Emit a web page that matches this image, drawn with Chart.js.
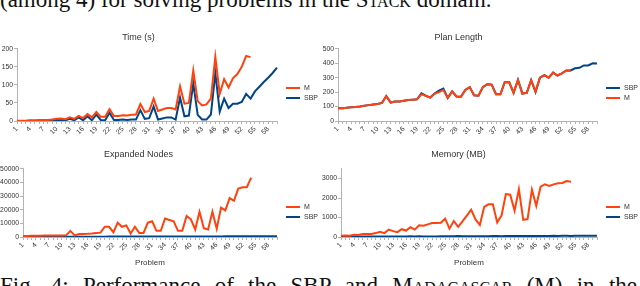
<!DOCTYPE html>
<html>
<head>
<meta charset="utf-8">
<script src="https://cdn.jsdelivr.net/npm/chart.js@4.4.0/dist/chart.umd.min.js"></script>
<style>
  body { margin: 0; width: 640px; height: 286px; overflow: hidden; background: #fff; position: relative; }
  .cap { position: absolute; left: 0; white-space: nowrap; font-family: "Liberation Serif", "Times New Roman", serif; font-size: 23px; line-height: 23px; color: #111; }
  .sc { font-variant: small-caps; }
  .box { position: absolute; }
</style>
</head>
<body>
<div class="cap" style="top:-12px">(among 4) for solving problems in the <span class="sc">Stack</span> domain.</div>

<div class="box" style="left:0;top:30px;width:320px;height:112px"><canvas id="time"></canvas></div>
<div class="box" style="left:320px;top:30px;width:320px;height:112px"><canvas id="plan"></canvas></div>
<div class="box" style="left:0;top:147px;width:320px;height:121px"><canvas id="nodes"></canvas></div>
<div class="box" style="left:320px;top:147px;width:320px;height:121px"><canvas id="memory"></canvas></div>

<div class="cap" style="top:274px;width:637px;text-align:justify;text-align-last:justify">Fig. 4: Performance of the SBP and M<span class="sc">adagascar</span> (M) in the</div>

<script>
// problem numbers on the x axis
const problems = ['1','2','3','4','5','6','7','8','9','10','11','12','13','14','15','16','17','18','19','20',
  '21','22','23','24','25','26','27','28','29','30','31','32','33','34','35','36','37','38','39','40',
  '41','42','43','44','45','46','47','48','49','50','51','52','53','54','55','56','57','58','59','60'];

// Time (s)
const timeM = [1,1,1,2,2,3,3,3,4,6,7,5,10,6,14,8,19,10,25,12,12,33,14,14,16,15,17,18,47,25,
  28,62,28,32,36,36,32,96,48,50,140,55,43,46,62,178,75,116,93,118,130,150,180,177];
const timeSBP = [0,0,0,1,0,1,1,1,2,3,3,2,6,2,10,2,13,2,18,3,2,23,3,3,4,3,4,4,30,6,
  8,40,4,7,10,10,4,65,13,15,104,17,4,4,18,133,26,62,36,48,48,53,75,62,82,95,108,120,133,148];

// Plan length
const planM = [88,88,92,95,97,100,105,110,115,118,125,172,128,135,135,140,145,148,150,185,
  175,162,188,200,215,160,205,170,168,215,235,178,175,235,255,252,185,185,270,268,
  195,285,190,195,283,205,300,318,300,335,315,330,348,348];
const planSBP = [88,88,92,95,97,100,105,110,115,118,125,172,128,135,135,140,145,148,150,192,
  175,162,190,210,225,160,205,170,168,215,235,178,175,235,255,252,185,185,270,268,
  195,285,190,195,283,200,300,318,300,335,315,330,350,350,365,368,385,385,400,398];

// Expanded nodes
const nodesM = [700,800,900,1000,1000,1100,1100,1100,1100,1100,1200,4500,1200,2200,2200,2300,2500,3000,3200,7500,
  7500,3500,10500,7500,8500,2500,7500,3000,3000,10500,11500,4500,4500,13500,12500,11500,4500,4500,15500,13000,
  5500,18500,6500,5500,18500,6000,21500,19500,28500,26500,35500,36500,36500,43500];
const nodesSBP = [100,100,110,120,120,130,140,150,160,170,180,200,200,210,220,230,240,250,260,270,
  280,290,300,300,310,300,320,320,330,340,350,340,360,370,380,380,370,390,400,410,
  400,420,410,430,440,450,440,460,470,480,490,500,500,510,520,530,540,550,560,570];

// Memory (MB)
const memM = [60,80,70,120,100,160,150,160,200,270,200,380,300,250,400,330,500,380,600,580,
  650,720,720,730,940,430,820,520,800,1100,1400,900,620,1550,1680,1680,750,1100,2200,2170,
  1350,2450,880,920,2430,1600,2580,2700,2620,2700,2760,2770,2870,2830];
const memSBP = [20,20,22,25,22,25,28,25,30,30,28,32,30,28,32,30,35,30,40,30,
  28,32,30,35,38,40,35,45,38,35,40,35,38,42,40,45,50,42,45,48,
  45,50,52,45,50,48,55,52,55,58,55,60,58,55,60,62,58,65,62,60];

const ORANGE = '#ff420e';
const BLUE = '#004586';
const AXIS = '#b3b3b3';
const FONT = '"Liberation Sans", Arial, sans-serif';

Chart.defaults.font.family = FONT;
Chart.defaults.color = '#333';

// legend drawn as short lines to the right of the plot, like the office chart
const sideLegend = {
  id: 'sideLegend',
  afterDraw(chart, args, opts) {
    const ctx = chart.ctx;
    const x = chart.chartArea.right + 9;
    ctx.save();
    ctx.font = '7px ' + FONT;
    ctx.textBaseline = 'middle';
    opts.items.forEach((idx, k) => {
      const ds = chart.data.datasets[idx];
      const y = opts.top + k * 10;
      ctx.strokeStyle = ds.borderColor;
      ctx.lineWidth = 2;
      ctx.beginPath();
      ctx.moveTo(x, y);
      ctx.lineTo(x + 14, y);
      ctx.stroke();
      ctx.fillStyle = '#333';
      ctx.fillText(ds.label, x + 18, y);
    });
    ctx.restore();
  }
};

function series(label, data, color) {
  return {
    label: label,
    data: data,
    borderColor: color,
    backgroundColor: color,
    borderWidth: 2,
    pointRadius: 0,
    tension: 0,
    fill: false
  };
}

function makeChart(id, title, datasets, yMax, yStep, yWidth, xHeight, titleGap, xTitle, legendItems, legendTop) {
  return new Chart(document.getElementById(id), {
    type: 'line',
    data: { labels: problems, datasets: datasets },
    plugins: [sideLegend],
    options: {
      responsive: true,
      maintainAspectRatio: false,
      animation: false,
      layout: { padding: { left: 0, right: 43, top: 0, bottom: 0 } },
      plugins: {
        title: {
          display: true,
          text: title,
          font: { size: 9, weight: 'normal' },
          padding: { top: 2, bottom: titleGap }
        },
        legend: { display: false },
        tooltip: { enabled: false },
        sideLegend: { items: legendItems, top: legendTop }
      },
      scales: {
        x: {
          grid: { drawOnChartArea: false, tickLength: 3, color: AXIS },
          border: { color: AXIS },
          ticks: {
            autoSkip: false,
            minRotation: 45,
            maxRotation: 45,
            padding: 1,
            font: { size: 7 },
            callback: function (v, i) { return i % 3 === 0 ? this.getLabelForValue(v) : ''; }
          },
          title: { display: xTitle, text: 'Problem', font: { size: 8 }, padding: 0 },
          afterFit: function (s) { s.height = xHeight; }
        },
        y: {
          min: 0,
          max: yMax,
          grid: { drawOnChartArea: false, tickLength: 3, color: AXIS },
          border: { color: AXIS },
          ticks: { stepSize: yStep, padding: 1, font: { size: 6.8 }, callback: v => String(v) },
          afterFit: function (s) { s.width = yWidth; }
        }
      }
    }
  });
}

makeChart('time', 'Time (s)',
  [series('M', timeM, ORANGE), series('SBP', timeSBP, BLUE)], 200, 50, 17, 21, 6, false, [0, 1], 58);
makeChart('plan', 'Plan Length',
  [series('M', planM, ORANGE), series('SBP', planSBP, BLUE)], 500, 100, 18, 21, 6, false, [1, 0], 58);
makeChart('nodes', 'Expanded Nodes',
  [series('M', nodesM, ORANGE), series('SBP', nodesSBP, BLUE)], 50000, 10000, 23, 31, 9, true, [0, 1], 60);
makeChart('memory', 'Memory (MB)',
  [series('M', memM, ORANGE), series('SBP', memSBP, BLUE)], 3500, 500, 21, 31, 9, true, [0, 1], 60);
</script>
</body>
</html>
